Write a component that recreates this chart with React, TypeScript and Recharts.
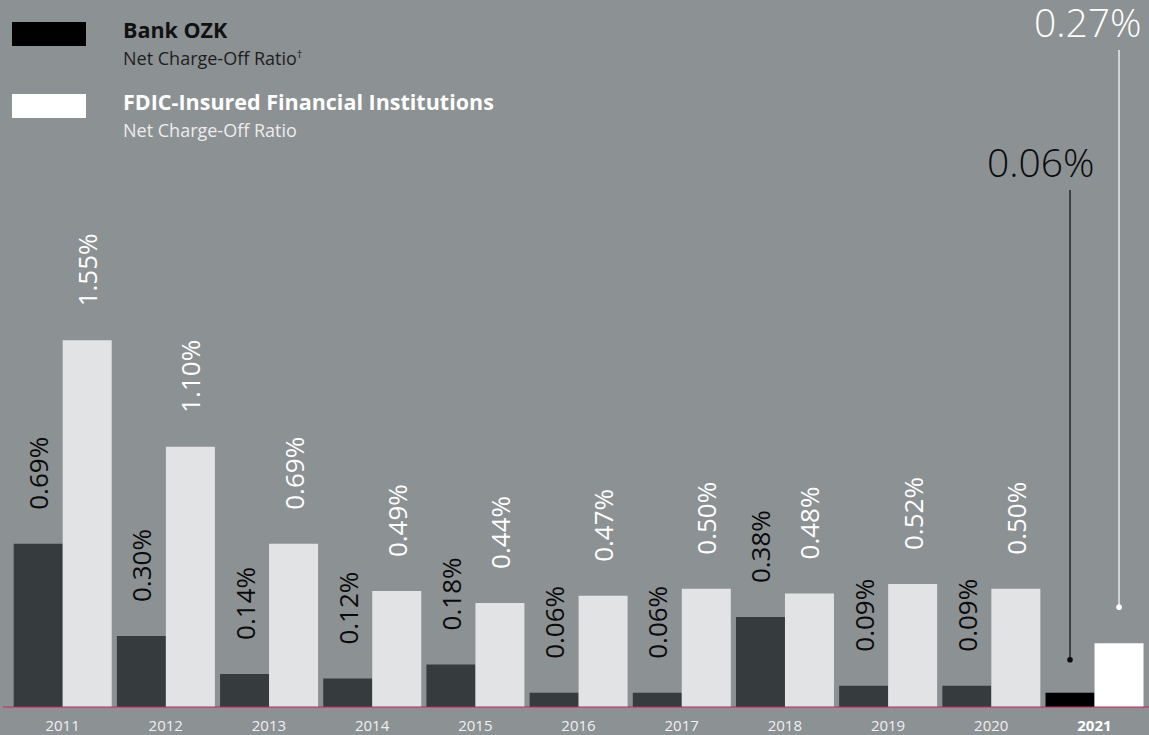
import React from "react";
import { BarChart, Bar, XAxis, YAxis, LabelList, Cell } from "recharts";

const years = ["2011", "2012", "2013", "2014", "2015", "2016", "2017", "2018", "2019", "2020", "2021"];
const ozkValues = [0.69, 0.3, 0.14, 0.12, 0.18, 0.06, 0.06, 0.38, 0.09, 0.09, 0.06];
const fdicValues = [1.55, 1.1, 0.69, 0.49, 0.44, 0.47, 0.5, 0.48, 0.52, 0.5, 0.27];

const data = years.map((year, i) => ({ year, ozk: ozkValues[i], fdic: fdicValues[i] }));

const BG = "#8c9194";
const DARK = "#363c3e";
const LIGHT = "#e2e3e5";
const FONT = "'Open Sans', Lato, sans-serif";
const LAST = years.length - 1;

const fmt = (v: number) => v.toFixed(2) + "%";

const makeLabel = (color: string, big: { textY: number; lineTop: number; dotGap: number; rightPad: number }) => (props: any) => {
  const { x, y, width, value, index } = props;
  const cx = x + width / 2;
  if (index === LAST) {
    const dotY = y - big.dotGap;
    return (
      <g>
        <text
          x={x + width - big.rightPad}
          y={big.textY}
          textAnchor="end"
          fill={color}
          fontSize={39}
          fontFamily={FONT}
          fontWeight={300}
        >
          {fmt(value)}
        </text>
        <line x1={cx} x2={cx} y1={big.lineTop} y2={dotY} stroke={color} strokeWidth={1.2} />
        <circle cx={cx} cy={dotY} r={2.8} fill={color} />
      </g>
    );
  }
  const ly = y - 34;
  return (
    <text
      x={cx}
      y={ly}
      transform={`rotate(-90, ${cx}, ${ly})`}
      textAnchor="start"
      dominantBaseline="central"
      fill={color}
      fontSize={26}
      fontWeight={400}
      fontFamily={FONT}
    >
      {fmt(value)}
    </text>
  );
};

const ozkLabel = makeLabel("#0a0a0a", { textY: 177, lineTop: 190, dotGap: 33, rightPad: 0 });
const fdicLabel = makeLabel("#ffffff", { textY: 37, lineTop: 50, dotGap: 36, rightPad: 2 });

const Tick = (props: any) => {
  const { x, payload } = props;
  const last = payload.value === years[LAST];
  return (
    <text
      x={x}
      y={731}
      textAnchor="middle"
      fill={last ? "#ffffff" : "#f0f0f0"}
      fontSize={15}
      fontWeight={last ? 700 : 400}
      fontFamily={FONT}
    >
      {payload.value}
    </text>
  );
};

export default function App() {
  return (
    <div style={{ position: "fixed", left: 0, top: 0, width: 1149, height: 735, background: BG, overflow: "hidden" }}>
      <BarChart
        width={1149}
        height={735}
        data={data}
        margin={{ top: 21, right: 0, bottom: 0, left: 3 }}
        barCategoryGap={2.7}
        barGap={0}
      >
        <XAxis
          dataKey="year"
          height={28}
          padding={{ left: 8, right: 3 }}
          axisLine={{ stroke: "#c8245a", strokeWidth: 1 }}
          tickLine={false}
          tickSize={0}
          tickMargin={0}
          tick={<Tick />}
          interval={0}
        />
        <YAxis hide domain={[0, 2.9]} />
        <Bar dataKey="ozk" fill={DARK} isAnimationActive={false}>
          {data.map((d, i) => (
            <Cell key={d.year} fill={i === LAST ? "#000000" : DARK} />
          ))}
          <LabelList dataKey="ozk" content={ozkLabel} />
        </Bar>
        <Bar dataKey="fdic" fill={LIGHT} isAnimationActive={false}>
          {data.map((d, i) => (
            <Cell key={d.year} fill={i === LAST ? "#ffffff" : LIGHT} />
          ))}
          <LabelList dataKey="fdic" content={fdicLabel} />
        </Bar>
      </BarChart>
      <svg
        width={600}
        height={150}
        style={{ position: "absolute", left: 0, top: 0, pointerEvents: "none" }}
      >
        <rect x={12} y={22} width={74} height={24} fill="#000000" />
        <text x={123} y={38} fontSize={21.5} fontWeight={700} fill="#111111" fontFamily={FONT}>
          Bank OZK
        </text>
        <text x={123} y={65} fontSize={18} fontWeight={400} fill="#1e1e1e" fontFamily={FONT}>
          Net Charge-Off Ratio
          <tspan fontSize={11} dy={-7}>†</tspan>
        </text>
        <rect x={12} y={94} width={74} height={24} fill="#ffffff" />
        <text x={123} y={110} fontSize={21.5} fontWeight={700} fill="#ffffff" fontFamily={FONT}>
          FDIC-Insured Financial Institutions
        </text>
        <text x={123} y={137} fontSize={18} fontWeight={400} fill="#ececec" fontFamily={FONT}>
          Net Charge-Off Ratio
        </text>
      </svg>
    </div>
  );
}
